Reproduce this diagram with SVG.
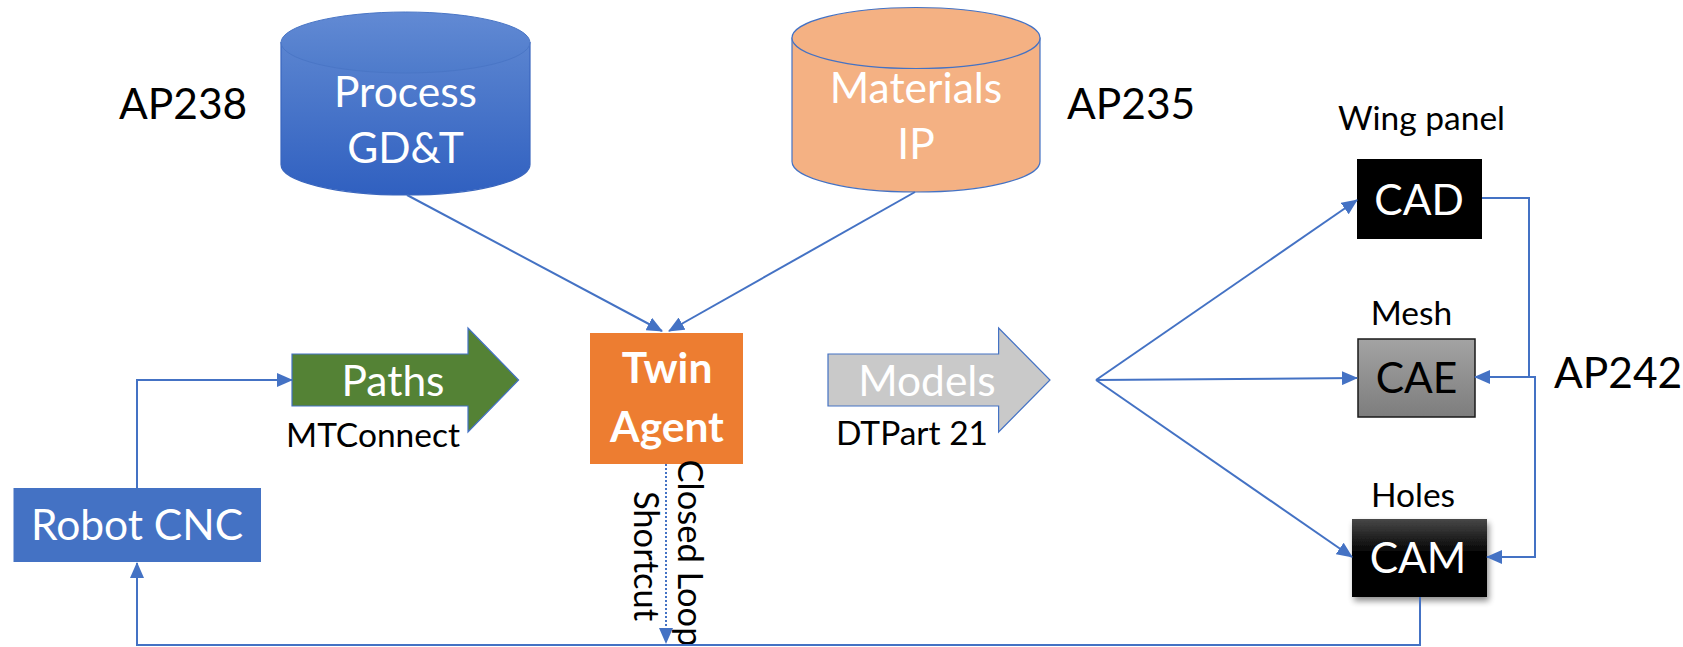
<svg xmlns="http://www.w3.org/2000/svg" width="1683" height="647" viewBox="0 0 1683 647">
<style>
text{font-family:Lato,"Liberation Sans",sans-serif}
.big{font-size:42.5px}
.mid{font-size:33.5px}
.w{fill:#fff}
.k{fill:#000}
.ln{fill:none;stroke:#4472C4;stroke-width:2}
</style>
<defs>
<linearGradient id="gBlue" x1="0" y1="0" x2="0" y2="1">
<stop offset="0" stop-color="#5A84D0"/><stop offset="1" stop-color="#3060C0"/>
</linearGradient>
<linearGradient id="gBlueTop" x1="0" y1="0" x2="0" y2="1">
<stop offset="0" stop-color="#628AD4"/><stop offset="1" stop-color="#4E7BCB"/>
</linearGradient>
<linearGradient id="gGray" x1="0" y1="0" x2="0" y2="1">
<stop offset="0" stop-color="#A3A3A3"/><stop offset="1" stop-color="#7D7D7D"/>
</linearGradient>
<linearGradient id="gBlack" x1="0" y1="0" x2="0" y2="1">
<stop offset="0" stop-color="#474747"/><stop offset="0.45" stop-color="#000"/><stop offset="1" stop-color="#000"/>
</linearGradient>
<filter id="sh" x="-20%" y="-20%" width="150%" height="150%">
<feGaussianBlur in="SourceAlpha" stdDeviation="3"/><feOffset dx="2" dy="4"/>
<feComponentTransfer><feFuncA type="linear" slope="0.45"/></feComponentTransfer>
<feMerge><feMergeNode/><feMergeNode in="SourceGraphic"/></feMerge>
</filter>
<marker id="ah" viewBox="0 0 16 14" refX="15" refY="7" markerWidth="16" markerHeight="14" markerUnits="userSpaceOnUse" orient="auto">
<path d="M0,0 L16,7 L0,14 Z" fill="#4472C4"/>
</marker>
</defs>

<g id="labels">
<text class="big k" x="119" y="119">AP238</text>
<text class="big k" x="1067" y="119">AP235</text>
<text class="big k" x="1554" y="388">AP242</text>
</g>

<g id="process">
<path d="M281,42.5 V164.5 A124.5,30.5 0 0 0 530,164.5 V42.5 Z" fill="url(#gBlue)" stroke="#3A66BE" stroke-width="1.2"/>
<ellipse cx="405.5" cy="42.5" rx="124.5" ry="30.5" fill="url(#gBlueTop)" stroke="#4A76C6" stroke-width="1"/>
<text class="big w" x="405.5" y="107" text-anchor="middle">Process</text>
<text class="big w" x="405.5" y="163" text-anchor="middle">GD&amp;T</text>
</g>

<g id="materials">
<path d="M792,38 V161.5 A124,30.5 0 0 0 1040,161.5 V38 Z" fill="#F4B183" stroke="#4472C4" stroke-width="1.2"/>
<ellipse cx="916" cy="38" rx="124" ry="30.5" fill="#F4B183" stroke="#4472C4" stroke-width="1.2"/>
<text class="big w" x="916" y="103" text-anchor="middle">Materials</text>
<text class="big w" x="916" y="159" text-anchor="middle">IP</text>
</g>

<g id="twin">
<rect x="590" y="333" width="153" height="131" fill="#ED7D31"/>
<text class="big w" x="667" y="383" text-anchor="middle" font-weight="bold">Twin</text>
<text class="big w" x="667" y="442" text-anchor="middle" font-weight="bold">Agent</text>
</g>

<g id="robot">
<rect x="13.5" y="488" width="247.5" height="74" fill="#4472C4"/>
<text class="big w" x="137" y="540" text-anchor="middle">Robot CNC</text>
</g>

<g id="paths">
<path d="M292,354 H468 V328 L518.6,380 L468,432 V406 H292 Z" fill="#548235" stroke="#4472C4" stroke-width="1.2"/>
<text class="big w" x="393" y="396" text-anchor="middle">Paths</text>
<text class="mid k" x="373" y="447" text-anchor="middle">MTConnect</text>
</g>

<g id="models">
<path d="M828,354 H998.6 V328 L1050,380 L998.6,432 V406 H828 Z" fill="#C9C9C9" stroke="#4472C4" stroke-width="1.2"/>
<text class="big w" x="927" y="396" text-anchor="middle">Models</text>
<text class="mid k" x="912" y="445" text-anchor="middle">DTPart 21</text>
</g>

<g id="cad">
<text class="mid k" x="1421.5" y="130" text-anchor="middle">Wing panel</text>
<rect x="1357" y="159" width="125" height="80" fill="#000"/>
<text class="big w" x="1419" y="215" text-anchor="middle">CAD</text>
</g>

<g id="cae">
<text class="mid k" x="1411.5" y="325" text-anchor="middle">Mesh</text>
<rect x="1358" y="339" width="117" height="78" fill="url(#gGray)" stroke="#1A1A1A" stroke-width="1.5"/>
<text class="big k" x="1416.5" y="393" text-anchor="middle">CAE</text>
</g>

<g id="cam">
<text class="mid k" x="1413" y="507" text-anchor="middle">Holes</text>
<rect x="1352" y="519" width="135" height="78" fill="url(#gBlack)" filter="url(#sh)"/>
<text class="big w" x="1418" y="573" text-anchor="middle">CAM</text>
</g>

<g id="shortcut-label">
<text transform="translate(678,553) rotate(90)" text-anchor="middle" style="font-size:34.5px">Closed Loop</text>
<text transform="translate(634,556) rotate(90)" text-anchor="middle" style="font-size:34.5px">Shortcut</text>
</g>

<g id="connectors">
<path class="ln" d="M407,195 L662,331" marker-end="url(#ah)"/>
<path class="ln" d="M915,192 L669,331" marker-end="url(#ah)"/>
<path class="ln" d="M137,488 V380 H292" marker-end="url(#ah)"/>
<path class="ln" d="M1420,597 V645 H137 V563" marker-end="url(#ah)"/>
<path class="ln" d="M666,464 V643" stroke-dasharray="2 2" marker-end="url(#ah)"/>
<path class="ln" d="M1096,380 L1357,200" marker-end="url(#ah)"/>
<path class="ln" d="M1096,380 L1357,378" marker-end="url(#ah)"/>
<path class="ln" d="M1096,380 L1352,557" marker-end="url(#ah)"/>
<path class="ln" d="M1482,198 H1529 V377 H1535 V557 H1487" marker-end="url(#ah)"/>
<path class="ln" d="M1535,377 H1475" marker-end="url(#ah)"/>
</g>
</svg>
